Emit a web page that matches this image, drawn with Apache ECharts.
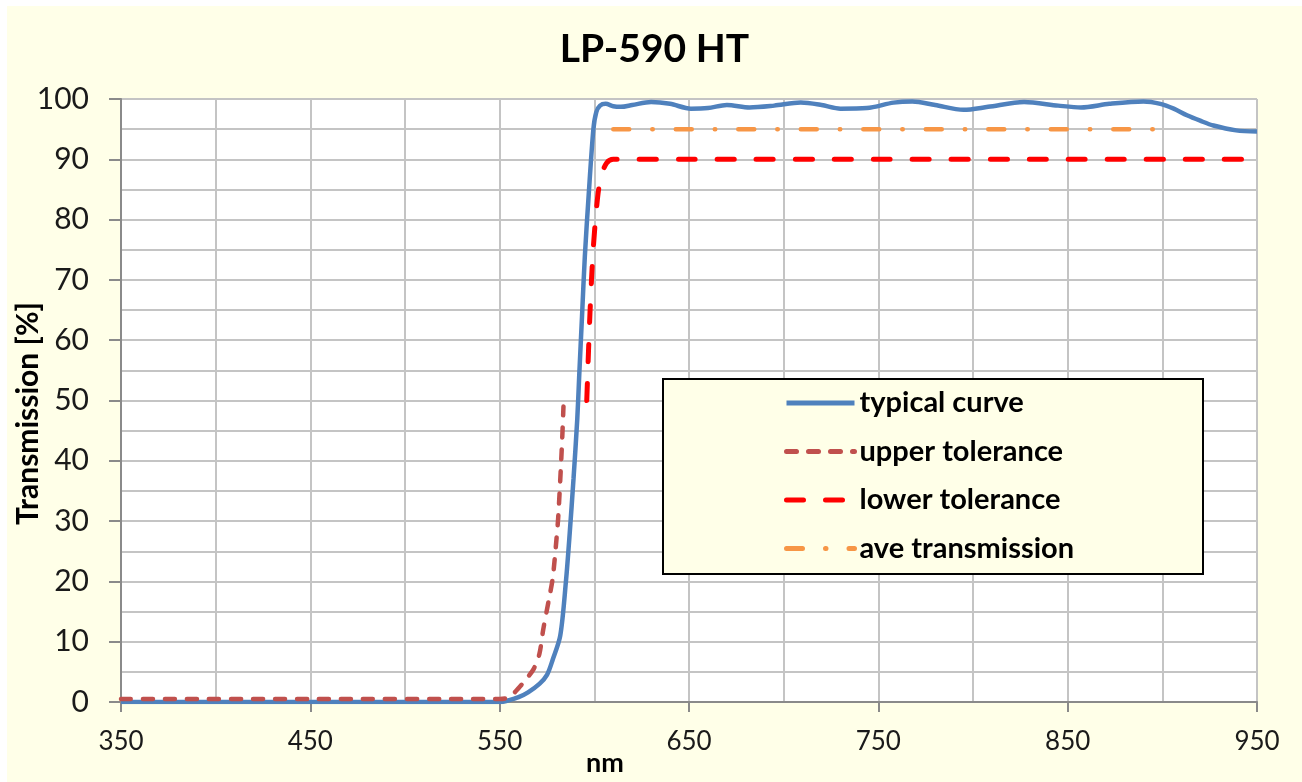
<!DOCTYPE html>
<html>
<head>
<meta charset="utf-8">
<script src="https://cdn.jsdelivr.net/npm/echarts@6/dist/echarts.min.js"></script>
<style>
html,body{margin:0;padding:0;background:#ffffff;width:1302px;height:782px;overflow:hidden;}
#chart{position:absolute;left:7px;top:6px;width:1295px;height:776px;background:#FFFFE8;}
</style>
</head>
<body>
<div id="chart"></div>
<script>
// ---- data ----
const titleText = 'LP-590 HT';
const xName = 'nm';
const yName = 'Transmission [%]';
const seriesNames = ['typical curve', 'upper tolerance', 'lower tolerance', 'ave transmission'];

const typicalX = [350, 450, 550, 555, 560, 565, 571, 575, 578, 582, 585, 587, 589, 591, 592, 593.5, 595, 597, 599.5, 601, 603, 606, 610, 614, 620, 630, 640, 651, 660, 670, 682, 695, 709, 720, 730, 744, 758, 768, 780, 795, 808, 827, 845, 857, 872, 890, 899, 906, 913, 920, 927, 939, 950];
const typicalY = [0, 0, 0, 0.3, 0.8, 1.6, 3, 4.5, 7, 11, 20, 28, 37, 47, 54, 64, 74, 84, 95, 97.8, 98.9, 99.2, 98.8, 98.7, 99.0, 99.5, 99.2, 98.4, 98.5, 99.0, 98.6, 98.9, 99.4, 99.0, 98.4, 98.5, 99.4, 99.6, 99.0, 98.2, 98.7, 99.5, 98.9, 98.6, 99.2, 99.6, 99.2, 98.4, 97.3, 96.4, 95.6, 94.8, 94.6];

const upperX = [350, 450, 550, 555, 560, 564, 568, 571, 573, 576, 578, 580, 581, 582.8, 583.7];
const upperY = [0.5, 0.5, 0.5, 0.8, 2.3, 3.8, 5.5, 8, 12, 17, 20.5, 27, 31, 42, 49];

const lowerX = [596, 597.7, 599.5, 602, 604, 606.5, 610, 650, 750, 850, 950];
const lowerY = [50, 64.5, 75.5, 84.4, 87.5, 89.4, 90, 90, 90, 90, 90];

const aveX = [610, 895];
const aveY = [95, 95];

const xTicks = {min: 350, max: 950, interval: 100};
const yTicks = {min: 0, max: 100, interval: 10};

function pairs(xs, ys) { return xs.map((x, i) => [x, ys[i]]); }

const FONT = 'Lato';
const gridColor = '#C4C4C4';
const axisColor = '#8A8A8A';

const chart = echarts.init(document.getElementById('chart'));
chart.setOption({
  backgroundColor: '#FFFFE8',
  animation: false,
  title: {
    text: titleText,
    left: 'center',
    top: 16,
    textStyle: {fontFamily: FONT, fontWeight: 'bold', fontSize: 39, color: '#000', lineHeight: 44}
  },
  grid: {left: 114, top: 93, right: 45, bottom: 80, show: true, backgroundColor: '#ffffff', borderWidth: 0, outerBoundsMode: 'none', containLabel: false},
  xAxis: {
    type: 'value',
    min: xTicks.min, max: xTicks.max, interval: xTicks.interval,
    name: xName,
    nameLocation: 'middle',
    nameGap: 47,
    nameMoveOverlap: false,
    nameTextStyle: {fontFamily: FONT, fontWeight: 'bold', fontSize: 27, color: '#000', lineHeight: 28, padding: [0, 168, 0, 0]},
    axisLine: {show: true, onZero: false, lineStyle: {color: axisColor, width: 2}},
    axisTick: {show: true, length: 10, lineStyle: {color: axisColor, width: 2}},
    minorTick: {show: false, splitNumber: 2},
    axisLabel: {margin: 27, fontFamily: FONT, fontSize: 26, color: '#1a1a1a', lineHeight: 26},
    splitLine: {show: true, lineStyle: {color: gridColor, width: 2}},
    minorSplitLine: {show: true, lineStyle: {color: gridColor, width: 2}}
  },
  yAxis: {
    type: 'value',
    min: yTicks.min, max: yTicks.max, interval: yTicks.interval,
    name: yName,
    nameLocation: 'middle',
    nameGap: 76,
    nameMoveOverlap: false,
    nameTextStyle: {fontFamily: FONT, fontWeight: 'bold', fontSize: 30, color: '#000', lineHeight: 34, padding: [0, 26, 0, 0]},
    axisLine: {show: true, lineStyle: {color: axisColor, width: 2}},
    axisTick: {show: true, length: 12, lineStyle: {color: axisColor, width: 2}},
    minorTick: {show: false, splitNumber: 2},
    axisLabel: {margin: 32, fontFamily: FONT, fontSize: 30, color: '#1a1a1a'},
    splitLine: {show: true, lineStyle: {color: gridColor, width: 2}},
    minorSplitLine: {show: true, lineStyle: {color: gridColor, width: 2}}
  },
  graphic: [{
    type: 'rect', left: 655, top: 372, z: 3,
    shape: {width: 540, height: 195},
    style: {fill: '#FFFFE8', stroke: '#000', lineWidth: 2}
  }],
  legend: {
    orient: 'vertical',
    left: 777, top: 382,
    z: 5,
    padding: 0,
    itemWidth: 68, itemHeight: 14, itemGap: 18.5,
    itemStyle: {opacity: 0},
    lineStyle: {width: 5},
    textStyle: {fontFamily: FONT, fontWeight: 'bold', fontSize: 29, color: '#000', lineHeight: 30, padding: [0, 0, 0, 0]},
    data: seriesNames
  },
  series: [
    {
      name: seriesNames[0], type: 'line', data: pairs(typicalX, typicalY),
      smooth: 0.3, symbol: 'none', z: 2,
      lineStyle: {color: '#4F81BD', width: 4.5}, itemStyle: {color: '#4F81BD'}
    },
    {
      name: seriesNames[1], type: 'line', data: pairs(upperX, upperY),
      smooth: 0.3, symbol: 'none', z: 3,
      lineStyle: {color: '#C0504D', width: 4.5, type: [10, 12], cap: 'round'}, itemStyle: {color: '#C0504D'}
    },
    {
      name: seriesNames[2], type: 'line', data: pairs(lowerX, lowerY),
      smooth: 0.3, symbol: 'none', z: 3,
      lineStyle: {color: '#FF0000', width: 5, type: [17, 22], cap: 'round'}, itemStyle: {color: '#FF0000'}
    },
    {
      name: seriesNames[3], type: 'line', data: pairs(aveX, aveY),
      symbol: 'none', z: 3,
      lineStyle: {color: '#F79646', width: 4.5, type: [16, 23, 0.5, 23], cap: 'round'}, itemStyle: {color: '#F79646'}
    }
  ]
});
</script>
</body>
</html>
